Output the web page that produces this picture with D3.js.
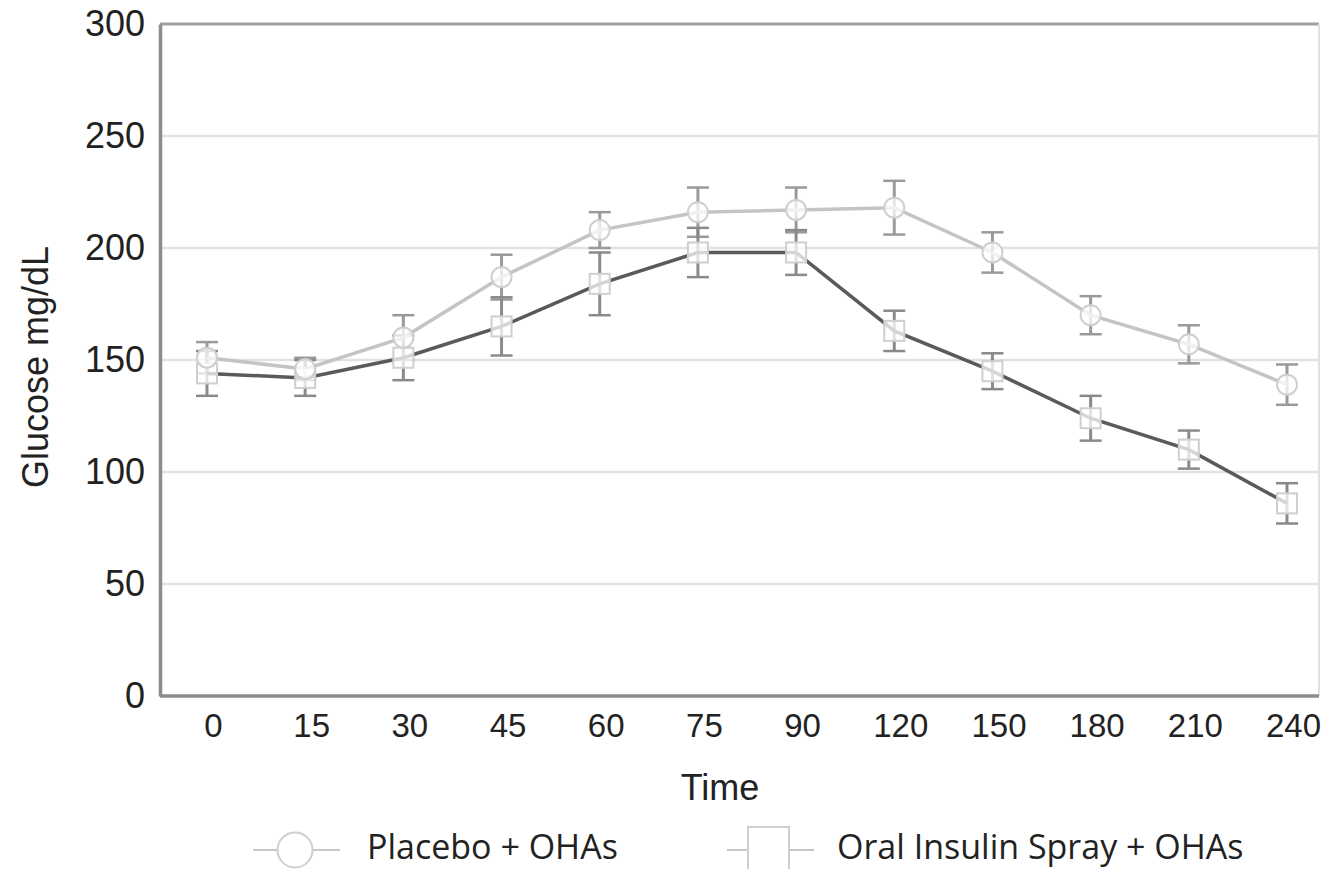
<!DOCTYPE html>
<html><head><meta charset="utf-8">
<script src="https://cdn.jsdelivr.net/npm/d3@7"></script>
<style>
html,body{margin:0;padding:0;background:#fff;}
svg{display:block;}
</style></head>
<body>
<svg id="chart" width="1321" height="869"></svg>
<script>
const timeLabels = ["0","15","30","45","60","75","90","120","150","180","210","240"];
const placeboValues = [151,146,160,187,208,216,217,218,198,170,157,139];
const placeboErrors = [7,5,10,10,8,11,10,12,9,8.5,8.5,9];
const insulinValues = [144,142,151,165,184,198,198,163,145,124,110,86];
const insulinErrors = [10,8,10,13,14,11,10,9,8,10,8.5,9];
const yTicks = [0,50,100,150,200,250,300];
const seriesNames = ["Placebo + OHAs","Oral Insulin Spray + OHAs"];

const svg = d3.select("#chart");
const L = 160, R = 1319, T = 24, B = 696;

const x = d3.scalePoint().domain(timeLabels).range([207, 1287]);
const y = d3.scaleLinear().domain([0,300]).range([B, T]);

// gridlines
svg.append("g").selectAll("line").data(yTicks.filter(d=>d>0 && d<300)).join("line")
  .attr("x1", L).attr("x2", R).attr("y1", d=>y(d)).attr("y2", d=>y(d))
  .attr("stroke", "#e2e2e2").attr("stroke-width", 2.5);

// frame: top and right
svg.append("line").attr("x1", L).attr("x2", R).attr("y1", T).attr("y2", T)
  .attr("stroke", "#a0a0a0").attr("stroke-width", 3);
svg.append("line").attr("x1", R).attr("x2", R).attr("y1", T).attr("y2", B)
  .attr("stroke", "#e0e0e0").attr("stroke-width", 2);

// y axis
const yAxis = svg.append("g").attr("transform", `translate(${L},0)`)
  .call(d3.axisLeft(y).tickValues(yTicks).tickSize(0).tickPadding(15));
yAxis.select(".domain").attr("stroke", "#8c8c8c").attr("stroke-width", 3.5);
yAxis.selectAll("text").attr("font-family", "Liberation Sans, Arial, sans-serif")
  .attr("font-size", 36).attr("fill", "#222");

// x axis
const xAxis = svg.append("g").attr("transform", `translate(0,${B})`)
  .call(d3.axisBottom(x).tickSize(0).tickPadding(18));
xAxis.select(".domain").attr("d", `M${L},0H${R}`).attr("stroke", "#8c8c8c").attr("stroke-width", 3.5);
xAxis.selectAll("text").attr("font-family", "Liberation Sans, Arial, sans-serif")
  .attr("font-size", 33).attr("fill", "#222").attr("dx", 6);

// axis titles
svg.append("text").attr("x", 720).attr("y", 800).attr("text-anchor", "middle")
  .attr("font-family", "Liberation Sans, Arial, sans-serif").attr("font-size", 36).attr("fill", "#222")
  .text("Time");
svg.append("text").attr("transform", "translate(48,367) rotate(-90)").attr("text-anchor", "middle")
  .attr("font-family", "Liberation Sans, Arial, sans-serif").attr("font-size", 36).attr("fill", "#222")
  .text("Glucose mg/dL");

const placeboData = timeLabels.map((t,i)=>({t, v: placeboValues[i], e: placeboErrors[i]}));
const insulinData = timeLabels.map((t,i)=>({t, v: insulinValues[i], e: insulinErrors[i]}));

const line = d3.line().x(d=>x(d.t)).y(d=>y(d.v));

function errorBars(data, color){
  const g = svg.append("g");
  g.selectAll("line.stem").data(data).join("line")
    .attr("x1", d=>x(d.t)).attr("x2", d=>x(d.t))
    .attr("y1", d=>y(d.v+d.e)).attr("y2", d=>y(d.v-d.e))
    .attr("stroke", color).attr("stroke-width", 3);
  g.selectAll("line.capT").data(data).join("line")
    .attr("x1", d=>x(d.t)-11).attr("x2", d=>x(d.t)+11)
    .attr("y1", d=>y(d.v+d.e)).attr("y2", d=>y(d.v+d.e))
    .attr("stroke", color).attr("stroke-width", 2.5);
  g.selectAll("line.capB").data(data).join("line")
    .attr("x1", d=>x(d.t)-11).attr("x2", d=>x(d.t)+11)
    .attr("y1", d=>y(d.v-d.e)).attr("y2", d=>y(d.v-d.e))
    .attr("stroke", color).attr("stroke-width", 2.5);
}

errorBars(placeboData, "#9a9a9a");
errorBars(insulinData, "#8a8a8a");

svg.append("path").datum(placeboData).attr("d", line)
  .attr("fill", "none").attr("stroke", "#c4c4c4").attr("stroke-width", 3.5);
svg.append("path").datum(insulinData).attr("d", line)
  .attr("fill", "none").attr("stroke", "#5a5a5a").attr("stroke-width", 3.5);

// markers
svg.append("g").selectAll("rect").data(insulinData).join("rect")
  .attr("x", d=>x(d.t)-10).attr("y", d=>y(d.v)-10).attr("width", 20).attr("height", 20)
  .attr("fill", "#fff").attr("fill-opacity", 0.75).attr("stroke", "#cfcfcf").attr("stroke-width", 2);
svg.append("g").selectAll("circle").data(placeboData).join("circle")
  .attr("cx", d=>x(d.t)).attr("cy", d=>y(d.v)).attr("r", 10)
  .attr("fill", "#fff").attr("fill-opacity", 0.75).attr("stroke", "#cfcfcf").attr("stroke-width", 2);

// legend
const lg = svg.append("g");
lg.append("line").attr("x1", 253).attr("x2", 340).attr("y1", 850).attr("y2", 850)
  .attr("stroke", "#c8c8c8").attr("stroke-width", 2);
lg.append("circle").attr("cx", 295).attr("cy", 850).attr("r", 17.5)
  .attr("fill", "#fff").attr("stroke", "#cfcfcf").attr("stroke-width", 2);
lg.append("text").attr("x", 367).attr("y", 859)
  .attr("font-family", "Open Sans, Noto Sans, sans-serif").attr("font-size", 34).attr("fill", "#222")
  .text(seriesNames[0]);
lg.append("line").attr("x1", 727).attr("x2", 814).attr("y1", 850).attr("y2", 850)
  .attr("stroke", "#c8c8c8").attr("stroke-width", 2);
lg.append("rect").attr("x", 748).attr("y", 827).attr("width", 41).attr("height", 46)
  .attr("fill", "#fff").attr("stroke", "#cfcfcf").attr("stroke-width", 2);
lg.append("text").attr("x", 837).attr("y", 859)
  .attr("font-family", "Open Sans, Noto Sans, sans-serif").attr("font-size", 34).attr("fill", "#222")
  .text(seriesNames[1]);
</script>
</body></html>
